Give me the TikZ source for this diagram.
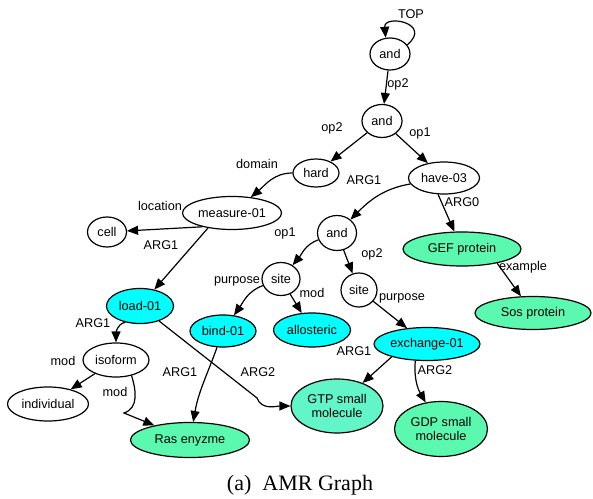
\documentclass[tikz,border=0pt]{standalone}
\usepackage{fontspec}
\setmainfont{Liberation Sans}
\newfontfamily\capfont{Liberation Serif}
\usetikzlibrary{shapes.geometric,arrows.meta}
\definecolor{predcyan}{HTML}{00FFFF}
\definecolor{entgreen}{HTML}{5BF9B0}
\definecolor{gtpgreen}{HTML}{62F5C8}
\begin{document}
\begin{tikzpicture}[x=1pt,y=1pt,
  font=\fontsize{12.7}{14}\selectfont,
  amr/.style={ellipse,draw,line width=1.2pt,inner sep=0pt},
  pred/.style={amr,fill=predcyan},
  ent/.style={amr,fill=entgreen},
  sz/.style 2 args={minimum width=#1,minimum height=#2},
  arr/.style={line width=1.2pt,-{Triangle[length=11pt,width=9pt]}}]
  \useasboundingbox (0,0) rectangle (593,498);

  \node[amr,sz={40}{32}] (and1) at (390,444) {and};
  \node[amr,sz={40}{33}] (and2) at (382,377) {and};
  \node[amr,sz={46}{28}] (hard) at (316,325) {hard};
  \node[amr,sz={71}{32}] (have) at (444,320) {have-03};
  \node[amr,sz={99}{33}] (measure) at (232,285) {measure-01};
  \node[amr,sz={39}{30}] (cell) at (107,266) {cell};
  \node[amr,sz={39}{35}] (and3) at (337,265) {and};
  \node[ent,sz={118}{34}] (gef) at (462,249) {GEF protein};
  \node[amr,sz={38}{33}] (site1) at (281,219) {site};
  \node[amr,sz={36}{34}] (site2) at (359,208) {site};
  \node[pred,sz={67}{35}] (load) at (140,192) {load-01};
  \node[ent,sz={116}{33}] (sos) at (533,185) {Sos protein};
  \node[pred,sz={66}{32}] (bind) at (223,167) {bind-01};
  \node[pred,sz={77}{34}] (allo) at (312,168) {allosteric};
  \node[pred,sz={106}{33}] (exchange) at (427,154) {exchange-01};
  \node[amr,sz={66}{34}] (isoform) at (116,138) {isoform};
  \node[amr,sz={81}{34}] (indiv) at (48,94) {individual};
  \node[amr,sz={92}{54},fill=gtpgreen,align=center] (gtp) at (337,92) {GTP small\\molecule};
  \node[ent,sz={93}{55},align=center] (gdp) at (441,69) {GDP small\\molecule};
  \node[ent,sz={119}{35}] (ras) at (190,58) {Ras enyzme};

  \draw[arr] (and1.28) .. controls +(40:34) and +(95:24) .. (and1.105);
  \draw (and1) edge[arr] (and2);
  \draw (and2) edge[arr] (hard);
  \draw (and2) edge[arr] (have);
  \draw (have) edge[arr,out=190,in=45] (and3);
  \draw (have.-110) edge[arr] (gef);
  \draw (hard) edge[arr,out=180,in=40] (measure);
  \draw (measure.205) edge[arr] (cell);
  \draw (measure.212) edge[arr] (load);
  \draw (and3) edge[arr,out=200,in=50] (site1);
  \draw (and3) edge[arr] (site2);
  \draw (site1) edge[arr,out=200,in=55] (bind);
  \draw (site1) edge[arr] (allo);
  \draw (site2) edge[arr] (exchange);
  \draw (gef.-22) edge[arr] (sos);
  \draw (exchange.200) edge[arr] (gtp);
  \draw (exchange.235) edge[arr,out=-95,in=120] (gdp);
  \draw (bind) edge[arr,out=-110,in=80] (ras);
  \draw (load.228) edge[arr,out=190,in=90] (isoform);
  \draw (isoform) edge[arr] (indiv);
  \draw[arr] (load) -- (257,100) to[out=-70,in=180] (gtp);
  \draw[arr] (isoform.-45) .. controls (136,108) and (139,90) .. (124,85) -- (ras);

  \node (lTOP) at (411,484) {TOP};
  \node (lop2a) at (398,414) {op2};
  \node (lop2b) at (332,370) {op2};
  \node (lop1a) at (420,365) {op1};
  \node (larg1a) at (364,318) {ARG1};
  \node (larg0) at (462,296) {ARG0};
  \node (ldomain) at (257,334) {domain};
  \node (lloc) at (160,292) {location};
  \node (larg1b) at (161,253) {ARG1};
  \node (lop1b) at (285,265) {op1};
  \node (lpurpa) at (237,217) {purpose};
  \node (lmoda) at (312,205) {mod};
  \node (lop2c) at (372,244) {op2};
  \node (lpurpb) at (402,200) {purpose};
  \node (lexample) at (523,231) {example};
  \node (larg1c) at (354,147) {ARG1};
  \node (larg2a) at (435,128) {ARG2};
  \node (larg2b) at (258,126) {ARG2};
  \node (larg1d) at (180,126) {ARG1};
  \node (larg1e) at (93,175) {ARG1};
  \node (lmodb) at (63,137) {mod};
  \node (lmodc) at (115,106) {mod};

  \node (caption) at (300,13) {\capfont\fontsize{22}{24}\selectfont (a)\enskip AMR Graph};
\end{tikzpicture}
\end{document}
